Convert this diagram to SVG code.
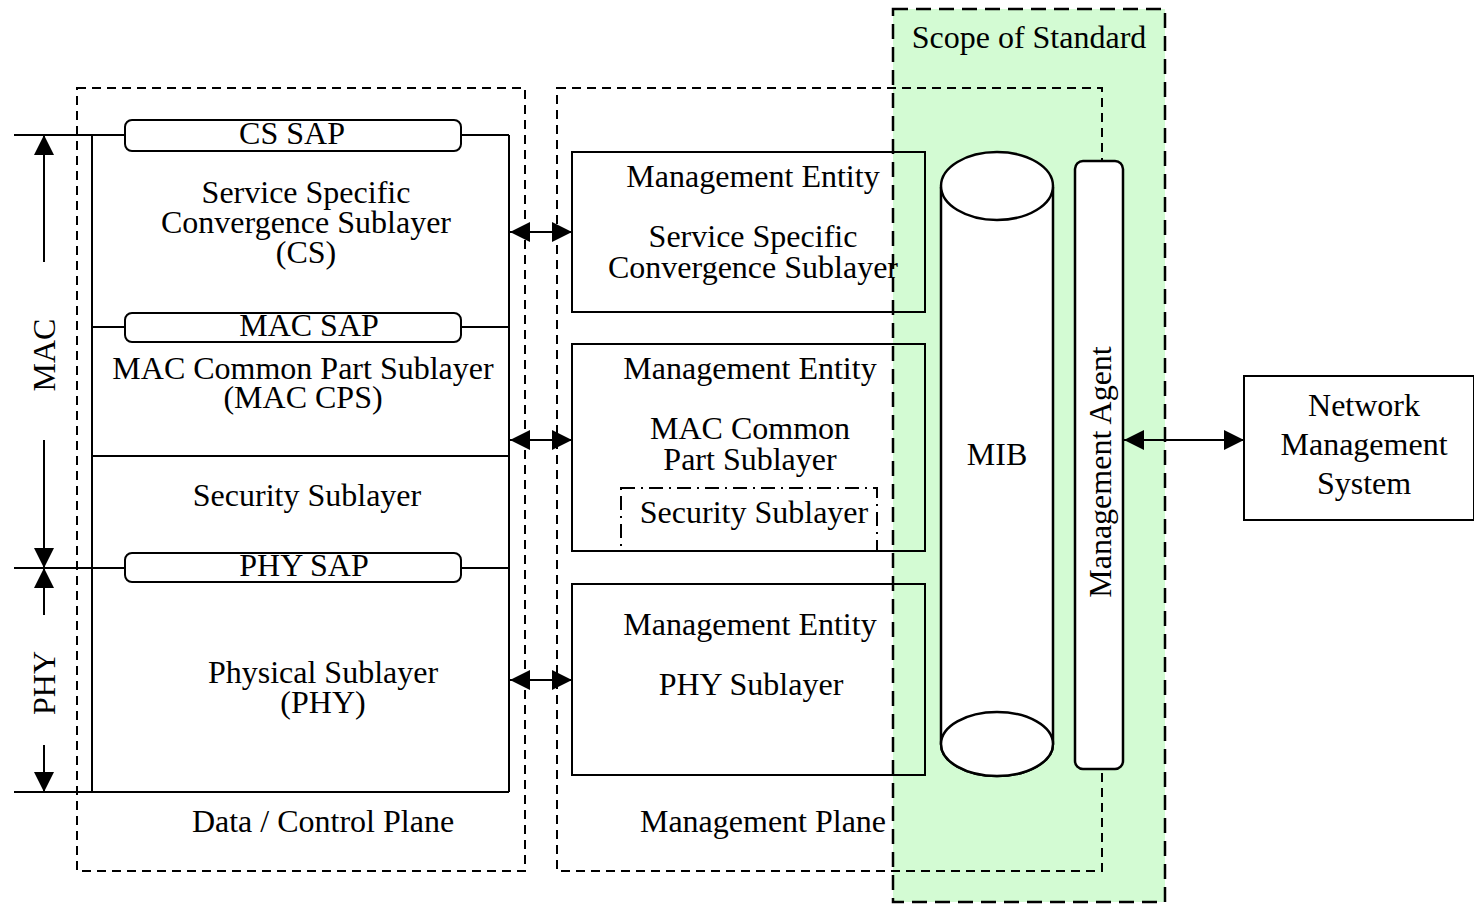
<svg xmlns="http://www.w3.org/2000/svg" width="1474" height="904" viewBox="0 0 1474 904">
<defs>
<style>
text{font-family:"Liberation Serif","Times New Roman",serif;font-size:32px;fill:#000;text-anchor:middle}
.ln{stroke:#000;stroke-width:2;fill:none}
.dash{stroke:#000;stroke-width:2;fill:none;stroke-dasharray:9 6}
.box{stroke:#000;stroke-width:2;fill:none}
.sap{stroke:#000;stroke-width:2;fill:#fff}
.wht{stroke:#000;stroke-width:2.5;fill:#fff}
</style>
<marker id="ah" viewBox="0 0 20 20" refX="20" refY="10" markerWidth="20" markerHeight="20" markerUnits="userSpaceOnUse" orient="auto-start-reverse">
<path d="M0,0 L20,10 L0,20 Z" fill="#000"/>
</marker>
</defs>
<rect width="1474" height="904" fill="#fff"/>
<g id="scope">
<rect x="893" y="9" width="272" height="893" fill="#d3fbd3" stroke="#000" stroke-width="2.5" stroke-dasharray="15 8"/>
<text x="1029" y="48">Scope of Standard</text>
</g>
<g id="data-control-plane">
<rect class="dash" x="77" y="88" width="448" height="783"/>
<text x="323" y="832">Data / Control Plane</text>
</g>
<g id="management-plane">
<rect class="dash" x="557" y="88" width="545" height="783"/>
<text x="763" y="832">Management Plane</text>
</g>
<g id="layer-stack">
<line class="ln" x1="14" y1="135" x2="125" y2="135"/>
<line class="ln" x1="461" y1="135" x2="509" y2="135"/>
<line class="ln" x1="92" y1="135" x2="92" y2="792"/>
<line class="ln" x1="509" y1="135" x2="509" y2="792"/>
<line class="ln" x1="92" y1="327" x2="125" y2="327"/>
<line class="ln" x1="461" y1="327" x2="509" y2="327"/>
<line class="ln" x1="92" y1="456" x2="509" y2="456"/>
<line class="ln" x1="14" y1="568" x2="125" y2="568"/>
<line class="ln" x1="461" y1="568" x2="509" y2="568"/>
<line class="ln" x1="14" y1="792" x2="509" y2="792"/>
</g>
<g id="cs-sap">
<rect class="sap" x="125" y="120" width="336" height="31" rx="7"/>
<text x="292" y="144">CS SAP</text>
</g>
<g id="cs">
<text x="306" y="203">Service Specific</text>
<text x="306" y="233">Convergence Sublayer</text>
<text x="306" y="263">(CS)</text>
</g>
<g id="mac-sap">
<rect class="sap" x="125" y="313" width="336" height="29" rx="7"/>
<text x="309" y="336">MAC SAP</text>
</g>
<g id="mac-cps">
<text x="303" y="379">MAC Common Part Sublayer</text>
<text x="303" y="408">(MAC CPS)</text>
</g>
<g id="security">
<text x="307" y="506">Security Sublayer</text>
</g>
<g id="phy-sap">
<rect class="sap" x="125" y="553" width="336" height="29" rx="7"/>
<text x="304" y="576">PHY SAP</text>
</g>
<g id="phy">
<text x="323" y="683">Physical Sublayer</text>
<text x="323" y="713">(PHY)</text>
</g>
<g id="mac-label">
<text transform="translate(55,355) rotate(-90)">MAC</text>
</g>
<g id="phy-label">
<text transform="translate(55,683) rotate(-90)">PHY</text>
</g>
<g id="me-cs">
<rect class="box" x="572" y="152" width="353" height="160"/>
<text x="753" y="187">Management Entity</text>
<text x="753" y="247">Service Specific</text>
<text x="753" y="278">Convergence Sublayer</text>
</g>
<g id="me-mac">
<rect class="box" x="572" y="344" width="353" height="207"/>
<text x="750" y="379">Management Entity</text>
<text x="750" y="439">MAC Common</text>
<text x="750" y="470">Part Sublayer</text>
</g>
<g id="me-security">
<rect x="621" y="488" width="256" height="63" fill="none" stroke="#000" stroke-width="2" stroke-dasharray="14 6 2 6"/>
<text x="754" y="523">Security Sublayer</text>
</g>
<g id="me-phy">
<rect class="box" x="572" y="584" width="353" height="191"/>
<text x="750" y="635">Management Entity</text>
<text x="751" y="695">PHY Sublayer</text>
</g>
<g id="mib">
<path class="wht" d="M941,187 L941,744 A56,32 0 0 0 1053,744 L1053,187"/>
<ellipse class="wht" cx="997" cy="186" rx="56" ry="34"/>
<ellipse class="wht" cx="997" cy="744" rx="56" ry="32"/>
<text x="997" y="465">MIB</text>
</g>
<g id="management-agent">
<rect class="wht" x="1075" y="161" width="48" height="608" rx="8"/>
<text transform="translate(1111,472) rotate(-90)">Management Agent</text>
</g>
<g id="nms">
<rect class="box" x="1244" y="376" width="230" height="144"/>
<text x="1364" y="416">Network</text>
<text x="1364" y="455">Management</text>
<text x="1364" y="494">System</text>
</g>
<g id="connectors">
<line class="ln" x1="44" y1="262" x2="44" y2="135" marker-end="url(#ah)"/>
<line class="ln" x1="44" y1="440" x2="44" y2="568" marker-end="url(#ah)"/>
<line class="ln" x1="44" y1="615" x2="44" y2="568" marker-end="url(#ah)"/>
<line class="ln" x1="44" y1="745" x2="44" y2="792" marker-end="url(#ah)"/>
<line class="ln" x1="510" y1="232" x2="572" y2="232" marker-start="url(#ah)" marker-end="url(#ah)"/>
<line class="ln" x1="510" y1="440" x2="572" y2="440" marker-start="url(#ah)" marker-end="url(#ah)"/>
<line class="ln" x1="510" y1="680" x2="572" y2="680" marker-start="url(#ah)" marker-end="url(#ah)"/>
<line class="ln" x1="1124" y1="440" x2="1244" y2="440" marker-start="url(#ah)" marker-end="url(#ah)"/>
</g>
</svg>
